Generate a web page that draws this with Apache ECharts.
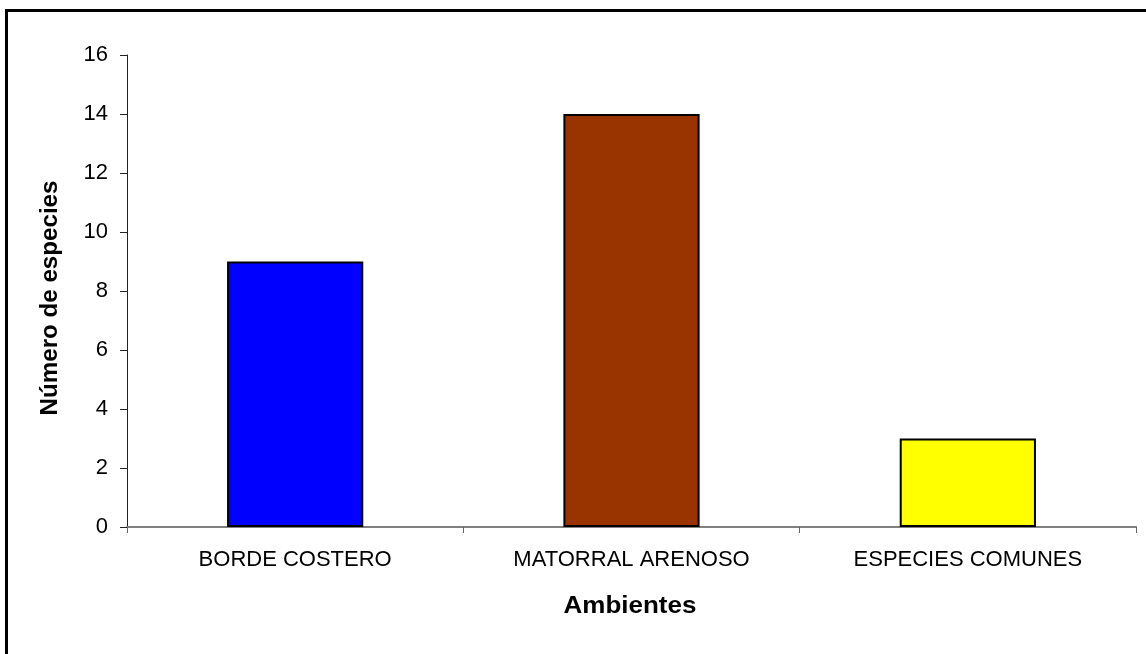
<!DOCTYPE html>
<html>
<head>
<meta charset="utf-8">
<script src="https://cdn.jsdelivr.net/npm/echarts@6/dist/echarts.min.js"></script>
<style>
  html, body { margin: 0; padding: 0; background: #fff; }
  #frame { position: absolute; left: 5px; top: 9px; width: 1160px; height: 670px; border: 3px solid #000; box-sizing: border-box; }
  #chart { position: absolute; left: 0; top: 0; width: 1146px; height: 654px; }
</style>
</head>
<body>
<div id="frame"></div>
<div id="chart"></div>
<script>
// Species counts per environment
const categories = ['BORDE COSTERO', 'MATORRAL ARENOSO', 'ESPECIES COMUNES'];
const especies = [9, 14, 3];
const barColors = ['#0000FF', '#993300', '#FFFF00'];
const yTicks = { min: 0, max: 16, interval: 2 };
const xTitle = 'Ambientes';
const yTitle = 'Número de especies';

const chart = echarts.init(document.getElementById('chart'), null, { renderer: 'canvas' });
const font = 'Arial, "Liberation Sans", sans-serif';

chart.setOption({
  backgroundColor: 'transparent',
  animation: false,
  grid: { left: 127, right: 10, top: 55, bottom: 127 },
  xAxis: {
    type: 'category',
    data: categories,
    axisLine: { lineStyle: { color: '#808080', width: 2 } },
    axisTick: { show: true, length: 6, inside: false, lineStyle: { color: '#666', width: 1 } },
    axisLabel: { fontFamily: font, fontSize: 22, color: '#000', margin: 22 },
    splitLine: { show: false }
  },
  yAxis: {
    type: 'value',
    min: yTicks.min,
    max: yTicks.max,
    interval: yTicks.interval,
    axisLine: { show: true, lineStyle: { color: '#222', width: 1 } },
    axisTick: { show: true, length: 7, lineStyle: { color: '#222', width: 1 } },
    axisLabel: { fontFamily: font, fontSize: 22, color: '#000', margin: 19 },
    splitLine: { show: false }
  },
  graphic: [
    {
      type: 'text',
      x: 630, y: 607,
      scaleX: 1.13,
      style: {
        text: xTitle, fontFamily: font, fontSize: 23, fontWeight: 'bold',
        fill: '#000', align: 'center', verticalAlign: 'middle'
      }
    },
    {
      type: 'text',
      x: 51, y: 298,
      rotation: Math.PI / 2,
      scaleX: 1.05,
      style: {
        text: yTitle, fontFamily: font, fontSize: 23, fontWeight: 'bold',
        fill: '#000', align: 'center', verticalAlign: 'middle'
      }
    }
  ],
  series: [{
    type: 'bar',
    barWidth: '40.5%',
    data: especies.map((v, i) => ({
      value: v,
      itemStyle: { color: barColors[i], borderColor: '#000', borderWidth: 2 }
    }))
  }]
});
</script>
</body>
</html>
